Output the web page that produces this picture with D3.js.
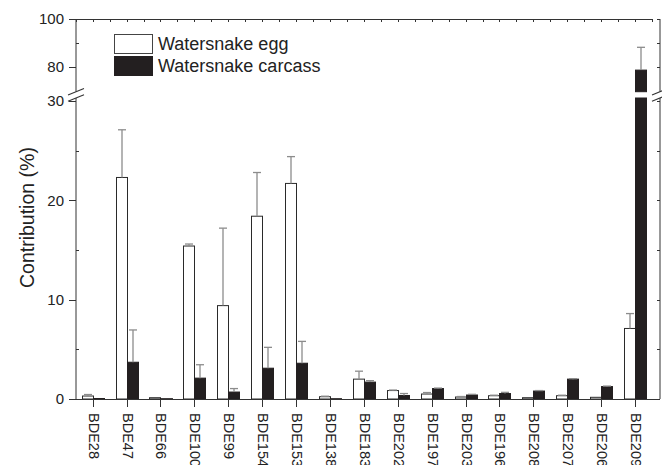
<!DOCTYPE html>
<html><head><meta charset="utf-8">
<script src="https://cdn.jsdelivr.net/npm/d3@7"></script>
<style>html,body{margin:0;padding:0;background:#fff;overflow:hidden}svg{display:block}</style>
</head><body>
<script>
const categories = ["BDE28","BDE47","BDE66","BDE100","BDE99","BDE154","BDE153","BDE138","BDE183","BDE202","BDE197","BDE203","BDE196","BDE208","BDE207","BDE206","BDE209"];
const eggValues     = [0.3, 22.3, 0.13, 15.4, 9.4, 18.4, 21.7, 0.23, 2.0, 0.85, 0.5, 0.2, 0.33, 0.13, 0.33, 0.17, 7.1];
const eggErrors     = [0.15, 4.8, 0, 0.2, 7.8, 4.4, 2.7, 0.05, 0.8, 0.05, 0.15, 0.05, 0.05, 0, 0.05, 0, 1.5];
const carcassValues = [0.05, 3.7, 0.03, 2.1, 0.7, 3.1, 3.6, 0.03, 1.7, 0.35, 1.05, 0.4, 0.55, 0.8, 2.0, 1.25, 78.7];
const carcassErrors = [0, 3.25, 0, 1.35, 0.35, 2.1, 2.2, 0, 0.15, 0.2, 0.05, 0.07, 0.12, 0.05, 0.05, 0.05, 9.5];
const seriesNames = ["Watersnake egg", "Watersnake carcass"];
const lowerTicks = [0, 10, 20, 30];
const lowerMinor = [5, 15, 25];
const upperTicks = [80, 100];
const upperMinor = [90];

const W = 662, H = 465;
const FONT = "'Liberation Sans', Arial, Helvetica, sans-serif";
const axisColor = "#333";
const svg = d3.select("body").append("svg").attr("width", W).attr("height", H)
  .style("font-family", FONT);

const x = d3.scaleLinear().domain([0.5, categories.length + 0.5]).range([75.75, 652]);
const yLow = d3.scaleLinear().domain([0, 30.3]).range([399, 98]);
const yUp = d3.scaleLinear().domain([69.7, 100]).range([91.7, 19]);
const LOW_MAX = 30.3, UP_MIN = 69.7;
const bw = 0.325;
const left = 76, rightAx = 660;

function yv(v) { return v <= LOW_MAX ? yLow(v) : yUp(v); }

// bars
const series = [
  {vals: eggValues, errs: eggErrors, off: -bw, fill: "#fff", stroke: "#2a2a2a"},
  {vals: carcassValues, errs: carcassErrors, off: 0, fill: "#231f20", stroke: "#231f20"}
];
const gBars = svg.append("g");
series.forEach(s => {
  s.vals.forEach((v, i) => {
    const x0 = Math.round(x(i + 1 + s.off)) + 0.5, x1 = Math.round(x(i + 1 + s.off + bw)) + 0.5;
    const segs = v <= LOW_MAX ? [[yLow(v), yLow(0)]] : [[yLow(LOW_MAX), yLow(0)], [yUp(v), yUp(UP_MIN)]];
    segs.forEach(([t, b]) => {
      gBars.append("rect").attr("x", x0).attr("y", t).attr("width", x1 - x0)
        .attr("height", Math.max(0.6, b - t)).attr("fill", s.fill).attr("stroke", s.stroke).attr("stroke-width", 1);
    });
    const e = s.errs[i];
    if (e > 0) {
      const cx = (x0 + x1) / 2;
      const yt = yv(v + e), yb = yv(v);
      gBars.append("line").attr("x1", cx).attr("x2", cx).attr("y1", yb).attr("y2", yt)
        .attr("stroke", "#8c8c8c").attr("stroke-width", 1.3);
      gBars.append("line").attr("x1", cx - 4).attr("x2", cx + 4).attr("y1", yt).attr("y2", yt)
        .attr("stroke", "#8c8c8c").attr("stroke-width", 1.3);
    }
  });
});

// axes frame
const ax = svg.append("g").attr("stroke", axisColor).attr("stroke-width", 1).attr("fill", "none");
// left axis segments
ax.append("line").attr("x1", left).attr("x2", left).attr("y1", yUp(100)).attr("y2", yUp(UP_MIN));
ax.append("line").attr("x1", left).attr("x2", left).attr("y1", yLow(LOW_MAX)).attr("y2", yLow(0));
// right axis
ax.append("line").attr("x1", rightAx).attr("x2", rightAx).attr("y1", yUp(100)).attr("y2", yUp(UP_MIN));
ax.append("line").attr("x1", rightAx).attr("x2", rightAx).attr("y1", yLow(LOW_MAX)).attr("y2", yLow(0));
// top
ax.append("line").attr("x1", left).attr("x2", x(categories.length + 0.5)).attr("y1", 19.5).attr("y2", 19.5);
// bottom
ax.append("line").attr("x1", left).attr("x2", rightAx).attr("y1", 399.5).attr("y2", 399.5);

// break marks
[left, rightAx].forEach(cx => {
  [yUp(UP_MIN), yLow(LOW_MAX)].forEach(cy => {
    ax.append("line").attr("x1", cx - 8).attr("x2", cx + 8).attr("y1", cy + 3.2).attr("y2", cy - 3.2)
      .attr("stroke-width", 1.1);
  });
});

// left ticks
lowerTicks.forEach(t => ax.append("line").attr("x1", left - 7).attr("x2", left).attr("y1", Math.round(yLow(t)) + 0.5).attr("y2", Math.round(yLow(t)) + 0.5));
upperTicks.forEach(t => ax.append("line").attr("x1", left - 7).attr("x2", left).attr("y1", Math.round(yUp(t)) + 0.5).attr("y2", Math.round(yUp(t)) + 0.5));
lowerMinor.forEach(t => ax.append("line").attr("x1", left).attr("x2", left + 3).attr("y1", Math.round(yLow(t)) + 0.5).attr("y2", Math.round(yLow(t)) + 0.5));
upperMinor.forEach(t => ax.append("line").attr("x1", left).attr("x2", left + 3).attr("y1", Math.round(yUp(t)) + 0.5).attr("y2", Math.round(yUp(t)) + 0.5));
// right ticks
lowerTicks.concat(lowerMinor).forEach(t => ax.append("line").attr("x1", rightAx - 3).attr("x2", rightAx).attr("y1", Math.round(yLow(t)) + 0.5).attr("y2", Math.round(yLow(t)) + 0.5));
upperTicks.concat(upperMinor).forEach(t => ax.append("line").attr("x1", rightAx - 3).attr("x2", rightAx).attr("y1", Math.round(yUp(t)) + 0.5).attr("y2", Math.round(yUp(t)) + 0.5));

// bottom ticks & top ticks
categories.forEach((c, i) => {
  const px = Math.round(x(i + 1)) + 0.5;
  ax.append("line").attr("x1", px).attr("x2", px).attr("y1", 399).attr("y2", 407);
});
d3.range(0.5, categories.length + 0.51, 0.5).forEach(v => {
  const px = Math.round(x(v)) + 0.5;
  ax.append("line").attr("x1", px).attr("x2", px).attr("y1", 19).attr("y2", 22);
});

// y tick labels
const lab = svg.append("g").attr("fill", "#222").attr("font-size", 15).attr("text-anchor", "end");
lowerTicks.forEach(t => lab.append("text").attr("x", 64).attr("y", yLow(t)).attr("dy", "0.36em").text(t));
upperTicks.forEach(t => lab.append("text").attr("x", 64).attr("y", yUp(t)).attr("dy", "0.36em").text(t));

// x tick labels
categories.forEach((c, i) => {
  svg.append("text").attr("transform", `translate(${x(i + 1)},399) rotate(90)`)
    .attr("x", 14).attr("y", 4).attr("font-size", 14.5).attr("fill", "#222").text(c);
});

// y title
svg.append("text").attr("transform", "translate(34,288) rotate(-90)")
  .attr("font-size", 19.5).attr("fill", "#222").text("Contribution (%)");

// legend
const lg = svg.append("g");
lg.append("rect").attr("x", 114.5).attr("y", 34.5).attr("width", 38).attr("height", 19)
  .attr("fill", "#fff").attr("stroke", "#444").attr("stroke-width", 1);
lg.append("rect").attr("x", 114.5).attr("y", 56.5).attr("width", 38).attr("height", 19)
  .attr("fill", "#231f20").attr("stroke", "#231f20").attr("stroke-width", 1);
lg.append("text").attr("x", 158).attr("y", 50).attr("font-size", 18).attr("fill", "#222").text(seriesNames[0]);
lg.append("text").attr("x", 158).attr("y", 72).attr("font-size", 18).attr("fill", "#222").text(seriesNames[1]);
</script>
</body></html>
